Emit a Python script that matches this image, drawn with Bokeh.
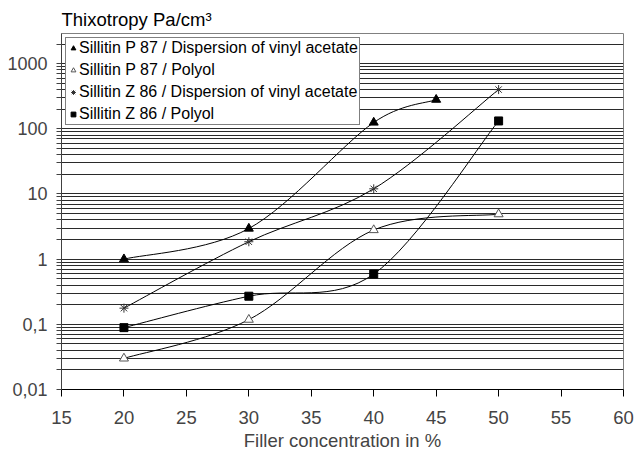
import numpy as np
from bokeh.plotting import figure
from bokeh.models import (Range1d, FixedTicker, CustomJSTickFormatter, Legend,
                          LegendItem)
from bokeh.embed import file_html
from bokeh.resources import INLINE

# ---------------- data ----------------
series_names = [
    "Sillitin P 87 / Dispersion of vinyl acetate",
    "Sillitin P 87 / Polyol",
    "Sillitin Z 86 / Dispersion of vinyl acetate",
    "Sillitin Z 86 / Polyol",
]
x_p87_disp = [20, 30, 40, 45]
y_p87_disp = [1.0, 2.95, 125, 280]
x_p87_poly = [20, 30, 40, 50]
y_p87_poly = [0.030, 0.118, 2.8, 4.9]
x_z86_disp = [20, 30, 40, 50]
y_z86_disp = [0.177, 1.85, 12.0, 400]
x_z86_poly = [20, 30, 40, 50]
y_z86_poly = [0.089, 0.27, 0.59, 132]

x_ticks = [15, 20, 25, 30, 35, 40, 45, 50, 55, 60]
y_ticks = [0.01, 0.1, 1, 10, 100, 1000]
y_tick_labels = ["0,01", "0,1", "1", "10", "100", "1000"]
title_text = "Thixotropy Pa/cm³"
x_label = "Filler concentration in %"

# ---------------- layout ----------------
W, H = 637, 455
B_LEFT, B_RIGHT, B_TOP, B_BOTTOM = 61, 14, 33, 66
x_start, x_end = 15, 60
y_start, y_end = 0.01, 2900
frame_w = W - B_LEFT - B_RIGHT
frame_h = H - B_TOP - B_BOTTOM
FONT = "Liberation Sans"

p = figure(width=W, height=H, output_backend="svg", toolbar_location=None,
           y_axis_type="log",
           x_range=Range1d(x_start, x_end), y_range=Range1d(y_start, y_end),
           min_border_left=B_LEFT, min_border_right=B_RIGHT,
           min_border_top=B_TOP, min_border_bottom=B_BOTTOM)
p.background_fill_color = "white"
p.border_fill_color = "white"
p.outline_line_color = "#808080"
p.outline_line_width = 1

# title
p.title.text = title_text
p.title.text_font = FONT
p.title.text_font_size = "18.5px"
p.title.text_font_style = "normal"
p.title.align = "left"
p.title.standoff = 7
p.title.text_color = "black"

# x axis
p.xaxis.ticker = FixedTicker(ticks=x_ticks, minor_ticks=[])
p.xaxis.axis_label = x_label
p.xaxis.axis_label_text_font = FONT
p.xaxis.axis_label_text_font_size = "18.5px"
p.xaxis.axis_label_text_font_style = "normal"
p.xaxis.axis_label_standoff = 3
p.xaxis.major_label_text_font = FONT
p.xaxis.major_label_text_font_size = "18.5px"
p.xaxis.major_label_standoff = 14
p.xaxis.major_tick_out = 7
p.xaxis.major_tick_in = 0
p.xaxis.axis_line_color = "black"
p.xaxis.major_tick_line_color = "black"

# y axis
minor = [m * 10.0 ** e for e in range(-2, 4) for m in range(2, 10)]
minor = [v for v in minor if v < y_end]
p.yaxis.ticker = FixedTicker(ticks=y_ticks, minor_ticks=minor)
p.yaxis.formatter = CustomJSTickFormatter(
    args=dict(yt=y_ticks, yl=y_tick_labels),
    code="""
    for (let i = 0; i < yt.length; i++) {
        if (Math.abs(yt[i] - tick) <= 1e-6 * yt[i]) return yl[i];
    }
    return '';
    """)
p.yaxis.major_label_text_font = FONT
p.yaxis.major_label_text_font_size = "18px"
p.yaxis.major_label_standoff = 9
p.yaxis.major_tick_out = 5
p.yaxis.major_tick_in = 0
p.yaxis.minor_tick_out = 5
p.yaxis.minor_tick_in = 0
p.yaxis.axis_line_color = "#404040"
p.yaxis.major_tick_line_color = "#404040"
p.yaxis.minor_tick_line_color = "#404040"

# grids
p.xgrid.grid_line_color = None
p.ygrid.grid_line_color = "#2a2a2a"
p.ygrid.grid_line_width = 1
p.ygrid.minor_grid_line_color = "#2a2a2a"
p.ygrid.minor_grid_line_width = 1


def smooth_segments(xs, ys):
    """Excel-style smoothed line: cubic Bezier segments through the points."""
    kx = frame_w / (x_end - x_start)
    ky = frame_h / np.log10(y_end / y_start)
    P = np.column_stack([np.asarray(xs, float) * kx,
                         np.log10(np.asarray(ys, float)) * ky])
    n = len(P)
    out = {k: [] for k in ("x0", "y0", "x1", "y1", "cx0", "cy0", "cx1", "cy1")}
    for i in range(n - 1):
        p0 = P[max(i - 1, 0)]
        p1 = P[i]
        p2 = P[i + 1]
        p3 = P[min(i + 2, n - 1)]
        d02 = np.linalg.norm(p2 - p0)
        d12 = np.linalg.norm(p2 - p1)
        d13 = np.linalg.norm(p3 - p1)
        f1 = f2 = 1.0 / 6.0
        if d02 > 0 and d02 / 6 >= d12 / 2:
            f1 = d12 / (2 * d02)
        if d13 > 0 and d13 / 6 >= d12 / 2:
            f2 = d12 / (2 * d13)
        c1 = p1 + (p2 - p0) * f1
        c2 = p2 - (p3 - p1) * f2
        for key, pt in (("0", p1), ("1", p2)):
            out["x" + key].append(pt[0] / kx)
            out["y" + key].append(10 ** (pt[1] / ky))
        out["cx0"].append(c1[0] / kx)
        out["cy0"].append(10 ** (c1[1] / ky))
        out["cx1"].append(c2[0] / kx)
        out["cy1"].append(10 ** (c2[1] / ky))
    return out


series = [
    (x_p87_disp, y_p87_disp, dict(marker="triangle", size=9, fill_color="black", line_color="black")),
    (x_p87_poly, y_p87_poly, dict(marker="triangle", size=9, fill_color="white", line_color="#555555")),
    (x_z86_disp, y_z86_disp, dict(marker="asterisk", size=9, line_color="#333333", line_width=1)),
    (x_z86_poly, y_z86_poly, dict(marker="square", size=8, fill_color="black", line_color="black")),
]

for xs, ys, _ in series:
    seg = smooth_segments(xs, ys)
    p.bezier(x0=seg["x0"], y0=seg["y0"], x1=seg["x1"], y1=seg["y1"],
             cx0=seg["cx0"], cy0=seg["cy0"], cx1=seg["cx1"], cy1=seg["cy1"],
             line_color="black", line_width=1)

items = []
for (xs, ys, style), name in zip(series, series_names):
    r = p.scatter(xs, ys, **style)
    items.append(LegendItem(label=name, renderers=[r]))

legend = Legend(items=items, location="top_left", margin=4, padding=1,
                spacing=4, glyph_width=12, glyph_height=16, label_height=16,
                label_standoff=0, label_text_font=FONT,
                label_text_font_size="16px", label_text_color="black",
                border_line_color="black", border_line_width=1,
                background_fill_color="white", background_fill_alpha=1.0)
p.add_layout(legend, "center")

open("out.html", "w").write(file_html(p, INLINE))
